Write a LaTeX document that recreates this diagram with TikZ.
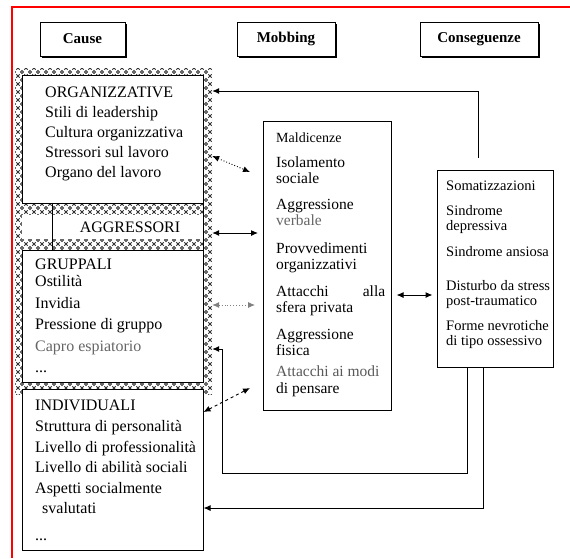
\documentclass[tikz,border=0pt]{standalone}
\usepackage{fontspec}
\setmainfont{Liberation Serif}
\usetikzlibrary{arrows.meta,patterns,shadows}
\pgfdeclarepatternformonly{xdots}{\pgfqpoint{-1pt}{-1pt}}{\pgfqpoint{9pt}{9pt}}{\pgfqpoint{8pt}{8pt}}{%
  \pgfsetlinewidth{0.9pt}%
  \pgfpathmoveto{\pgfqpoint{0.3pt}{0.3pt}}\pgfpathlineto{\pgfqpoint{3.7pt}{3.7pt}}%
  \pgfpathmoveto{\pgfqpoint{0.3pt}{3.7pt}}\pgfpathlineto{\pgfqpoint{3.7pt}{0.3pt}}%
  \pgfusepath{stroke}%
  \pgfpathmoveto{\pgfqpoint{6pt}{4.5pt}}\pgfpathlineto{\pgfqpoint{7.5pt}{6pt}}%
  \pgfpathlineto{\pgfqpoint{6pt}{7.5pt}}\pgfpathlineto{\pgfqpoint{4.5pt}{6pt}}\pgfpathclose
  \pgfusepath{stroke}%
}
\begin{document}
\begin{tikzpicture}[x=1pt,y=-1pt,
  hdr/.style={draw, line width=0.9pt, fill=white,
    drop shadow={shadow xshift=2pt, shadow yshift=-2pt, opacity=1, fill=black},
    minimum height=34pt, inner sep=0, font=\fontsize{15}{17}\selectfont\bfseries},
  boxx/.style={draw, line width=1pt, fill=white, inner sep=0},
  txt/.style={anchor=north west, align=left, inner sep=0},
  lt/.style={font=\fontsize{16}{20}\selectfont},
  mt/.style={font=\fontsize{15.5}{16}\selectfont},
  ln/.style={line width=1pt},
  arr/.style={ln, -{Latex[length=7pt,width=6pt]}},
  darr/.style={ln, {Latex[length=7pt,width=6pt]}-{Latex[length=7pt,width=6pt]}},
  dotarr/.style={line width=0.9pt, dotted, {Latex[length=7pt,width=6pt]}-{Latex[length=7pt,width=6pt]}},
  dasharr/.style={line width=0.9pt, dashed, {Latex[length=7pt,width=6pt]}-{Latex[length=7pt,width=6pt]}}
]
\useasboundingbox (0,0) rectangle (570,558);
\fill[white] (0,0) rectangle (570,558);
\draw[red, line width=1.6pt] (12,558) -- (12,7) -- (570,7);

% headers
\node[hdr, minimum width=85pt] (hc) at (82.5,39) {Cause};
\node[hdr, minimum width=98pt] (hm) at (286,39) {Mobbing};
\node[hdr, minimum width=118pt] (hk) at (479,39) {Conseguenze};

% patterned causes area
\node[pattern=xdots, pattern color=black!80, minimum width=197pt, minimum height=326pt, inner sep=0] (pat) at (113.5,231) {};
\node[boxx, minimum width=181pt, minimum height=128pt] (org) at (112.5,139) {};
\node[fill=white, minimum width=181pt, minimum height=24pt, inner sep=0] (band) at (112.5,227) {};
\node[boxx, minimum width=181pt, minimum height=132pt] (gru) at (112.5,316) {};
\node[boxx, minimum width=181pt, minimum height=161pt] (ind) at (112.5,469.5) {};
\draw[ln] (org.south -| 52,0) -- (gru.north -| 52,0);
\draw[ln] (org.south east) -- (gru.north east);

\node[txt, lt] (orgt) at (45,87) {ORGANIZZATIVE\\Stili di leadership\\Cultura organizzativa\\Stressori sul lavoro\\Organo del lavoro};
\node[font=\fontsize{16}{18}\selectfont] (aggt) at (130,227) {AGGRESSORI};
\node[txt, font=\fontsize{16}{21.5}\selectfont] (grut) at (35,259) {GRUPPALI\\[-4.5pt]Ostilità\\Invidia\\Pressione di gruppo\\\textcolor{black!60}{Capro espiatorio}\\...};
\node[txt, font=\fontsize{16}{20.7}\selectfont] (indt) at (35,400) {INDIVIDUALI\\Struttura di personalità\\Livello di professionalità\\Livello di abilità sociali\\Aspetti socialmente\\[-1pt]\hspace*{7pt}svalutati\\[7pt]...};

% mobbing box
\node[boxx, minimum width=128pt, minimum height=289pt] (mb) at (327,265.5) {};
\node[txt, mt] (mbt) at (276,133) {\fontsize{14}{16}\selectfont Maldicenze\\[9pt]Isolamento\\sociale\\[10pt]Aggressione\\\textcolor{black!60}{verbale}\\[12pt]Provvedimenti\\organizzativi\\[11pt]\hbox to 109pt{Attacchi\hfill alla}\\sfera privata\\[11pt]Aggressione\\fisica\\[5pt]\textcolor{black!65}{Attacchi ai modi}\\[1pt]di pensare};

% consequences box
\node[boxx, minimum width=116pt, minimum height=197pt] (rb) at (495,268.5) {};
\node[txt, font=\fontsize{14.5}{15}\selectfont] (rbt) at (446,181) {Somatizzazioni\\[10pt]Sindrome\\depressiva\\[11pt]Sindrome ansiosa\\[19pt]Disturbo da stress\\post-traumatico\\[10pt]Forme nevrotiche\\di tipo ossessivo};

% connectors
\coordinate (d1) at (250,172);
\coordinate (d2) at (258,233);
\coordinate (d3) at (255,305);
\coordinate (d4) at (250,388);
\draw[arr] (rb.north -| 478,0) ++(0,-12) |- (pat.east |- 0,91);
\draw[dotarr] (pat.east |- 0,156) -- (d1);
\draw[darr] (pat.east |- 0,233) -- (d2);
\draw[dotarr, black!50] (pat.east |- 0,305) -- (d3);
\draw[arr] (rb.south -| 467,0) |- (222,473) -- (222,349) -- (pat.east |- 0,349);
\draw[dasharr] (ind.east |- 0,412) -- (d4);
\draw[arr] (rb.south -| 483,0) |- (ind.east |- 0,508);
\draw[darr] (mb.east |- 0,295) ++(5,0) -- ([xshift=-4pt]rb.west |- 0,295);
\end{tikzpicture}
\end{document}
